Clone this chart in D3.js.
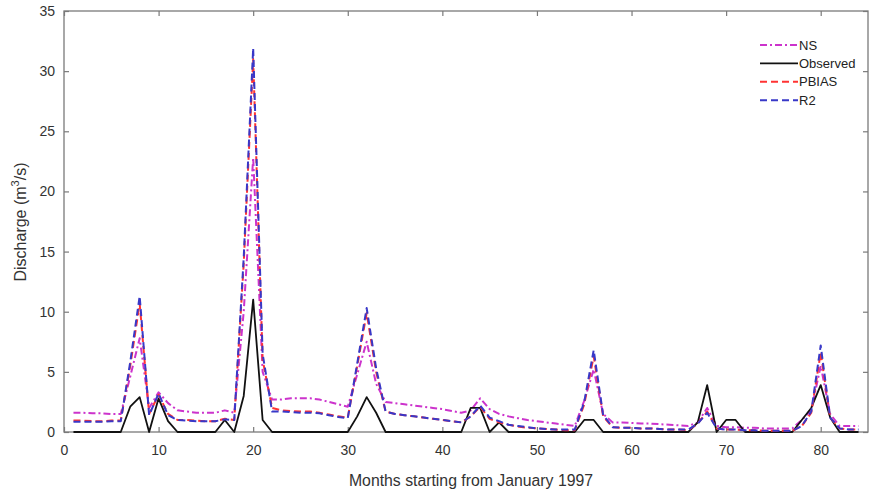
<!DOCTYPE html>
<html><head><meta charset="utf-8">
<script src="https://cdn.jsdelivr.net/npm/d3@7"></script>
<style>body{margin:0;background:#fff}svg{display:block}</style>
</head><body>
<svg id="c" width="869" height="492"></svg>
<script>
const months = d3.range(1, 85);
const observed = [0,0,0,0,0,0,2.1,2.9,0,2.8,0.9,0,0,0,0,0,1.0,0,3.0,11.0,1.0,0,0,0,0,0,0,0,0,0,1.3,2.9,1.6,0,0,0,0,0,0,0,0,0,2.0,2.0,0,0.8,0,0,0,0,0,0,0,0,1.0,1.0,0,0,0,0,0,0,0,0,0,0,0.8,3.9,0,1.0,1.0,0,0,0,0,0,0,1.0,2.0,3.9,1.2,0,0,0];
const ns = [1.6,1.6,1.55,1.55,1.5,1.5,4.6,7.8,2.0,3.3,2.4,1.8,1.7,1.6,1.6,1.6,1.8,1.6,10,22.8,5.0,2.7,2.7,2.8,2.8,2.8,2.7,2.5,2.3,2.1,4.8,7.5,4.0,2.5,2.4,2.3,2.2,2.1,2.0,1.9,1.75,1.6,1.8,2.8,1.9,1.5,1.3,1.15,1.0,0.9,0.8,0.7,0.6,0.5,2.6,5.2,1.5,0.8,0.8,0.75,0.7,0.7,0.65,0.6,0.55,0.5,0.8,2.0,0.5,0.4,0.4,0.35,0.35,0.3,0.3,0.3,0.3,1.0,1.8,5.5,1.5,0.5,0.5,0.5];
const pbias = [0.95,0.95,0.9,0.9,0.95,0.95,5.5,10.7,1.5,3.1,1.5,1.0,1.0,0.95,0.9,0.9,1.1,1.0,14,31.0,6.0,2.0,1.8,1.75,1.7,1.7,1.6,1.45,1.3,1.2,5.5,9.9,5.0,1.7,1.5,1.4,1.3,1.2,1.1,1.0,0.9,0.8,1.3,2.1,1.1,0.8,0.6,0.45,0.35,0.3,0.25,0.2,0.15,0.15,2.3,6.3,1.3,0.4,0.35,0.35,0.3,0.3,0.25,0.2,0.2,0.15,0.7,1.7,0.3,0.2,0.2,0.15,0.15,0.1,0.1,0.1,0.1,0.5,1.6,6.6,1.2,0.3,0.2,0.2];
const r2 = [0.85,0.85,0.85,0.85,0.9,0.9,5.8,11.3,1.4,3.2,1.4,1.0,0.95,0.9,0.9,0.9,1.05,1.0,14.5,31.9,6.5,1.7,1.7,1.65,1.6,1.6,1.55,1.4,1.25,1.15,5.7,10.3,5.3,1.7,1.5,1.4,1.3,1.2,1.1,1.0,0.9,0.8,1.3,2.2,1.2,0.9,0.6,0.5,0.4,0.3,0.25,0.2,0.2,0.2,2.5,6.8,1.4,0.4,0.35,0.35,0.3,0.3,0.25,0.2,0.2,0.2,0.7,1.6,0.3,0.2,0.2,0.15,0.15,0.1,0.1,0.1,0.1,0.5,1.7,7.2,1.2,0.3,0.2,0.2];
const xTicks = [0,10,20,30,40,50,60,70,80];
const yTicks = [0,5,10,15,20,25,30,35];
const seriesNames = ["NS","Observed","PBIAS","R2"];

const svg = d3.select("#c");
const L = 64, R = 868, T = 11, B = 432;
const x = d3.scaleLinear().domain([0,85]).range([L,R]);
const y = d3.scaleLinear().domain([0,35]).range([B,T]);
const font = "'Liberation Sans', Arial, sans-serif";
const axisCol = "#7a7a7a", textCol = "#333";

svg.append("rect").attr("x",L).attr("y",T).attr("width",R-L).attr("height",B-T)
  .attr("fill","none").attr("stroke",axisCol).attr("stroke-width",1.3);

const gx = svg.append("g").attr("transform",`translate(0,${B})`)
  .call(d3.axisBottom(x).tickValues(xTicks).tickSizeInner(-5).tickSizeOuter(0).tickPadding(13));
const gxt = svg.append("g").attr("transform",`translate(0,${T})`)
  .call(d3.axisTop(x).tickValues(xTicks).tickSizeInner(-5).tickSizeOuter(0).tickFormat(""));
const gy = svg.append("g").attr("transform",`translate(${L},0)`)
  .call(d3.axisLeft(y).tickValues(yTicks).tickSizeInner(-5).tickSizeOuter(0).tickPadding(9));
const gyr = svg.append("g").attr("transform",`translate(${R},0)`)
  .call(d3.axisRight(y).tickValues(yTicks).tickSizeInner(-5).tickSizeOuter(0).tickFormat(""));
[gx,gxt,gy,gyr].forEach(g=>{
  g.select(".domain").remove();
  g.selectAll("line").attr("stroke",axisCol).attr("stroke-width",1.2);
  g.selectAll("text").attr("fill",textCol).style("font-family",font).style("font-size","14px");
});

const data = {NS: ns, Observed: observed, PBIAS: pbias, R2: r2};
const styles = {
  NS: {color:"#cc33cc", dash:"7,3,2,3", w:2},
  Observed: {color:"#111", dash:null, w:1.8},
  PBIAS: {color:"#ff3333", dash:"7,4", w:2},
  R2: {color:"#3838c8", dash:"7,4", w:2}
};
const line = d3.line().x((d,i)=>x(months[i])).y(d=>y(d));
seriesNames.forEach(n=>{
  svg.append("path").datum(data[n]).attr("d",line).attr("fill","none")
    .attr("stroke",styles[n].color).attr("stroke-width",styles[n].w)
    .attr("stroke-dasharray",styles[n].dash).attr("stroke-linejoin","round");
});

const lg = svg.append("g");
seriesNames.forEach((n,i)=>{
  const yy = 45 + i*18.4;
  lg.append("line").attr("x1",760).attr("x2",798).attr("y1",yy).attr("y2",yy)
    .attr("stroke",styles[n].color).attr("stroke-width",styles[n].w).attr("stroke-dasharray",styles[n].dash);
  lg.append("text").attr("x",799).attr("y",yy+4.5).text(n)
    .attr("fill","#222").style("font-family",font).style("font-size","13px");
});

svg.append("text").attr("x",471).attr("y",486).attr("text-anchor","middle")
  .attr("fill",textCol).style("font-family",font).style("font-size","15.8px")
  .text("Months starting from January 1997");
const yt = svg.append("text").attr("transform","translate(26,222) rotate(-90)").attr("text-anchor","middle")
  .attr("fill",textCol).style("font-family",font).style("font-size","16px");
yt.append("tspan").text("Discharge (m");
yt.append("tspan").attr("dy",-7).style("font-size","11px").text("3");
yt.append("tspan").attr("dy",7).text("/s)");
</script>
</body></html>
